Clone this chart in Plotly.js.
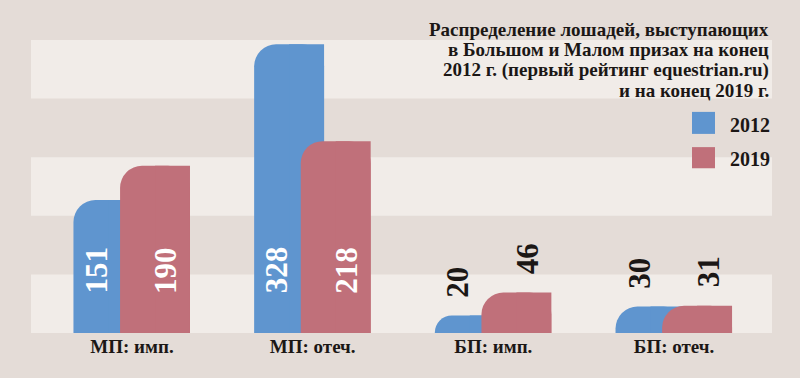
<!DOCTYPE html>
<html>
<head>
<meta charset="utf-8">
<script src="https://cdn.plot.ly/plotly-3.0.1.min.js"></script>
<style>html,body{margin:0;padding:0;background:#e4dcd7;}#chart{width:800px;height:378px;}</style>
</head>
<body>
<div id="chart"></div>
<script>
// ---- data ----
const categories = ["МП: имп.", "МП: отеч.", "БП: имп.", "БП: отеч."];
const values2012 = [151, 328, 20, 30];
const values2019 = [190, 218, 46, 31];
const seriesNames = ["2012", "2019"];
const titleLines = ["Распределение лошадей, выступающих", "в Большом и Малом призах на конец", "2012 г. (первый рейтинг equestrian.ru)", "и на конец 2019 г."];

// ---- styling ----
const BLUE = "#5f95cf", RED = "#c0707a", BG = "#e4dcd7", BAND = "#f1ece8", INK = "#1b1715";
const FONT = "'Liberation Serif', 'Times New Roman', serif";
const W = 0.387, OFF_B = -0.324, OFF_R = -0.066, RAD = 22;
const xs = categories.map((c, i) => i);

function barPair(vals, color, off, name) {
  return [
    {type: "bar", x: xs, y: vals, name: name, width: W, offset: off,
     marker: {color: color, cornerradius: RAD, line: {width: 0}}, hoverinfo: "skip", showlegend: false},
    {type: "bar", x: xs, y: vals, name: name, width: W / 2, offset: off + W / 2,
     marker: {color: color, cornerradius: 0, line: {width: 0}}, hoverinfo: "skip", showlegend: false}
  ];
}
const traces = [].concat(barPair(values2012, BLUE, OFF_B, seriesNames[0]), barPair(values2019, RED, OFF_R, seriesNames[1]));

// background bands (data y units matching value scale)
const bandStep = 66.6;
const shapes = [];
for (let k = 0; k < 5; k += 2) {
  shapes.push({type: "rect", xref: "paper", yref: "y", x0: 0.03875, x1: 0.965, y0: k * bandStep, y1: (k + 1) * bandStep,
               fillcolor: BAND, line: {width: 0}, layer: "below"});
}
// legend squares
shapes.push({type: "rect", xref: "paper", yref: "paper", x0: 692/800, x1: 715/800, y0: 1 - 152/378, y1: 1 - 127/378, fillcolor: BLUE, line: {width: 0}});
shapes.push({type: "rect", xref: "paper", yref: "paper", x0: 692/800, x1: 715/800, y0: 1 - 191/378, y1: 1 - 167/378, fillcolor: RED, line: {width: 0}});

const annotations = [];
function valueLabels(vals, dx) {
  vals.forEach((v, i) => {
    const inside = v > 100;
    annotations.push({
      x: i + dx, y: inside ? 71.6 : v, xref: "x", yref: "y",
      text: String(v), showarrow: false, textangle: -90,
      xanchor: "center", yanchor: inside ? "middle" : "bottom", yshift: inside ? 0 : 16,
      font: {family: FONT, size: 31, color: inside ? "#ffffff" : INK, weight: "bold"}
    });
  });
}
valueLabels(values2012, -0.196);
valueLabels(values2019, 0.188);

titleLines.forEach((line, k) => {
  annotations.push({xref: "paper", yref: "paper", x: 771/800, y: 1 - (33 + 23.3 * k)/378, xanchor: "right", yanchor: "middle",
    text: line, showarrow: false, font: {family: FONT, size: 19, color: INK, weight: "bold"}});
});
annotations.push({xref: "paper", yref: "paper", x: 772/800, y: 1 - 142/378, xanchor: "right", yanchor: "middle",
  text: seriesNames[0], showarrow: false, font: {family: FONT, size: 20, color: INK, weight: "bold"}});
annotations.push({xref: "paper", yref: "paper", x: 772/800, y: 1 - 180/378, xanchor: "right", yanchor: "middle",
  text: seriesNames[1], showarrow: false, font: {family: FONT, size: 20, color: INK, weight: "bold"}});

const layout = {
  width: 800, height: 378,
  margin: {l: 0, r: 0, t: 0, b: 45, pad: 0},
  paper_bgcolor: BG, plot_bgcolor: BG,
  barmode: "overlay", showlegend: false,
  xaxis: {range: [-0.7305, 3.697], tickvals: xs, ticktext: categories, showgrid: false, zeroline: false,
          showline: false, ticks: "", tickfont: {family: FONT, size: 19, color: INK, weight: "bold"}, fixedrange: true},
  yaxis: {range: [0, 378.4], visible: false, showgrid: false, zeroline: false, fixedrange: true},
  shapes: shapes, annotations: annotations
};
Plotly.newPlot("chart", traces, layout, {displayModeBar: false, staticPlot: true});
</script>
</body>
</html>
